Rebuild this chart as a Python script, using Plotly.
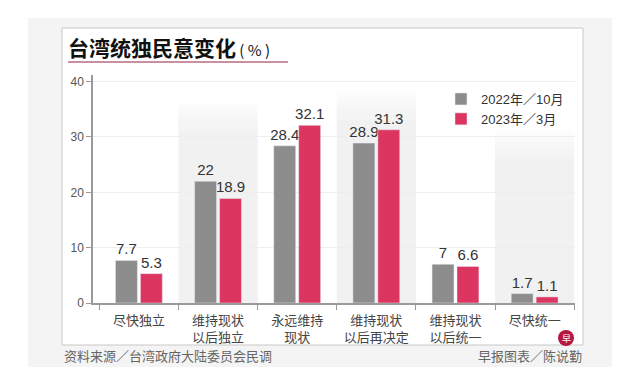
import plotly.graph_objects as go

categories = ["尽快独立", "维持现状<br>以后独立", "永远维持<br>现状", "维持现状<br>以后再决定", "维持现状<br>以后统一", "尽快统一"]
series_2022 = [7.7, 22, 28.4, 28.9, 7, 1.7]
series_2023 = [5.3, 18.9, 32.1, 31.3, 6.6, 1.1]
labels_2022 = ["7.7", "22", "28.4", "28.9", "7", "1.7"]
labels_2023 = ["5.3", "18.9", "32.1", "31.3", "6.6", "1.1"]
series_names = ["2022年／10月", "2023年／3月"]
y_ticks = [0, 10, 20, 30, 40]
title_text = "台湾统独民意变化"
source_text = "资料来源／台湾政府大陆委员会民调"
credit_text = "早报图表／陈说勤"

GRAY = "#8d8d8d"
RED = "#dc3560"
FONT = "Liberation Sans, Noto Sans CJK SC, sans-serif"
CJK = "Noto Sans CJK SC, sans-serif"

# page body has an 8px margin: figure is drawn at (8, 8) in the window
OFF = 8
W, H = 640 - OFF, 367 - OFF
L, R, T, B = 93 - OFF, 65, 75 - OFF, 64
PW, PH = W - L - R, H - T - B


def px(xp):
    return (xp - OFF - L) / PW


def py(yp):
    return (H - B - (yp - OFF)) / PH


fig = go.Figure()
for vals, labs, name, col in [(series_2022, labels_2022, series_names[0], GRAY),
                              (series_2023, labels_2023, series_names[1], RED)]:
    fig.add_trace(go.Bar(
        x=categories, y=vals, name=name, marker_color=col,
        text=labs, textposition="outside", cliponaxis=False, constraintext="none",
        textfont=dict(size=15, color="#333333", family=FONT),
    ))

shapes = []
# outer page background and white frame
shapes.append(dict(type="rect", xref="paper", yref="paper", x0=px(28), x1=px(612), y0=py(367), y1=py(18),
                   fillcolor="#f4f4f4", line=dict(width=0), layer="below"))
shapes.append(dict(type="rect", xref="paper", yref="paper", x0=px(62), x1=px(583), y0=py(345), y1=py(28),
                   fillcolor="white", line=dict(color="#c8c8c8", width=1), layer="below"))
# shaded alternating bands (uniform with faded top)
band_tops = {1: 36, 3: 38, 5: 31}
for i, top in band_tops.items():
    shapes.append(dict(type="rect", xref="x", yref="y", x0=i - 0.5, x1=i + 0.5, y0=0, y1=top - 5,
                       fillcolor="#f1f1f1", line=dict(width=0), layer="below"))
    for k in range(5):
        shapes.append(dict(type="rect", xref="x", yref="y", x0=i - 0.5, x1=i + 0.5,
                           y0=top - 5, y1=top - k,
                           fillcolor="rgba(241,241,241,0.22)", line=dict(width=0), layer="below"))
# title underline
shapes.append(dict(type="line", xref="paper", yref="paper", x0=px(68), x1=px(288), y0=py(62), y1=py(62),
                   line=dict(color="#c9909f", width=2)))
# logo circle
shapes.append(dict(type="circle", xref="paper", yref="paper", x0=px(558), x1=px(574), y0=py(346), y1=py(330),
                   fillcolor="#b5173f", line=dict(width=0)))

annotations = [
    dict(xref="paper", yref="paper", x=px(66), y=py(47), xanchor="left", yanchor="middle", showarrow=False,
         text="<b>" + title_text + "</b><span style='font-size:15px;'> ( % )</span>",
         font=dict(size=21, color="#111111", family=CJK)),
    dict(xref="paper", yref="paper", x=px(62), y=py(355), xanchor="left", yanchor="middle", showarrow=False,
         text=source_text, font=dict(size=13, color="#666666", family=CJK)),
    dict(xref="paper", yref="paper", x=px(584), y=py(355), xanchor="right", yanchor="middle", showarrow=False,
         text=credit_text, font=dict(size=13, color="#666666", family=CJK)),
    dict(xref="paper", yref="paper", x=px(566), y=py(338), xanchor="center", yanchor="middle", showarrow=False,
         text="早", font=dict(size=9, color="white", family=CJK)),
]

fig.update_layout(
    width=W, height=H,
    margin=dict(l=L, r=R, t=T, b=B, pad=0),
    paper_bgcolor="white", plot_bgcolor="rgba(0,0,0,0)",
    barmode="group", bargap=0.37, bargroupgap=0.12,
    font=dict(family=FONT, color="#444444"),
    showlegend=True,
    legend=dict(x=px(441), y=py(84), xanchor="left", yanchor="top", bgcolor="rgba(0,0,0,0)",
                font=dict(size=13, color="#333333", family=FONT), tracegroupgap=6, itemwidth=30),
    shapes=shapes, annotations=annotations,
)
fig.update_xaxes(
    type="category", range=[-0.58, 5.51], showline=True, linecolor="#9a9a9a", linewidth=1.5,
    ticks="outside", tickson="boundaries", ticklen=5, tickcolor="#9a9a9a", ticklabelstandoff=5,
    tickfont=dict(size=13, color="#444444", family=CJK), showgrid=False, zeroline=False,
)
fig.update_yaxes(
    range=[0, 41.2], tickvals=y_ticks, showline=True, linecolor="#9a9a9a", linewidth=1.5,
    ticks="outside", ticklen=5, tickcolor="#9a9a9a", tickfont=dict(size=12, color="#555555"),
    showgrid=True, gridcolor="#eeeeee", gridwidth=1, zeroline=False,
)

fig.write_html("out.html")
